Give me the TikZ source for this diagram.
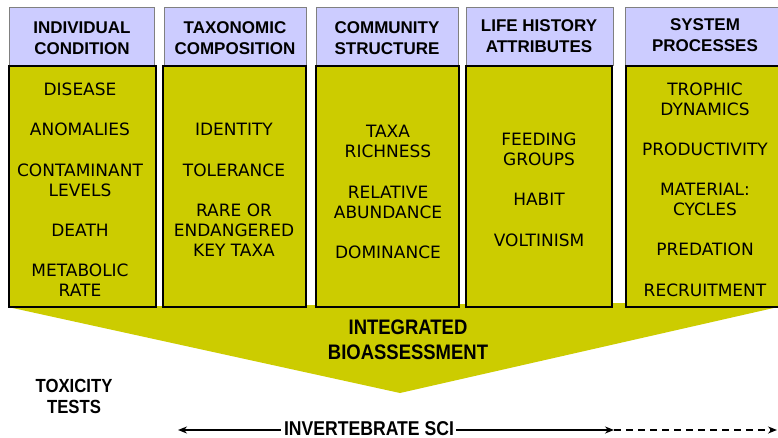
\documentclass[tikz,border=0pt]{standalone}
\usepackage{fontspec}
\setmainfont{Liberation Sans}
\newfontfamily\comic{DejaVu Sans}
\newfontfamily\narrowb[FakeStretch=0.88]{Liberation Sans Bold}
\usetikzlibrary{arrows.meta}
\definecolor{yel}{RGB}{204,204,0}
\definecolor{lav}{RGB}{204,204,255}
\definecolor{hdrline}{RGB}{128,128,128}
\begin{document}
\begin{tikzpicture}[x=1pt,y=-1pt,
  hdr/.style={draw=hdrline, fill=lav, line width=0.8pt},
  ybox/.style={draw=black, fill=yel, line width=2.8pt},
  htxt/.style={font=\fontsize{17}{21}\selectfont\bfseries, align=center, inner sep=0pt},
  itxt/.style={font=\comic\fontsize{17}{20}\selectfont, align=center, inner sep=0pt},
  btxt/.style={font=\narrowb\fontsize{21}{25}\selectfont, align=center, inner sep=0pt},
  stxt/.style={font=\narrowb\fontsize{19}{21}\selectfont, align=center, inner sep=0pt},
  arr/.style={line width=1.6pt, -{Stealth[length=9pt,width=7pt]}}]
\useasboundingbox (0,0) rectangle (778,438);
% funnel
\fill[yel] (8,307) -- (800,302) -- (400,393) -- cycle;
% header boxes
\path[hdr] (9,7) rectangle (154,65);
\path[hdr] (164,7) rectangle (306,65);
\path[hdr] (316,7) rectangle (458,65);
\path[hdr] (466,7) rectangle (613,65);
\path[hdr] (625,7) rectangle (790,65);
% yellow boxes
\path[ybox] (9,66) rectangle (156,307);
\path[ybox] (163,66) rectangle (306,307);
\path[ybox] (316,66) rectangle (459,307);
\path[ybox] (466,66) rectangle (612,307);
\path[ybox] (626,66) rectangle (795,307);
% headers text
\node[htxt] (t1) at (82,38.5) {INDIVIDUAL\\CONDITION};
\node[htxt] (t2) at (235,38.5) {TAXONOMIC\\COMPOSITION};
\node[htxt] (t3) at (387,38.5) {COMMUNITY\\STRUCTURE};
\node[htxt] (t4) at (539,36.5) {LIFE HISTORY\\ATTRIBUTES};
\node[htxt] (t5) at (705,35.5) {SYSTEM\\PROCESSES};
% column 1
\node[itxt] (a1) at (80,89) {DISEASE};
\node[itxt] (a2) at (80,129) {ANOMALIES};
\node[itxt] (a3) at (80,180) {CONTAMINANT\\LEVELS};
\node[itxt] (a4) at (80,230) {DEATH};
\node[itxt] (a5) at (80,280) {METABOLIC\\RATE};
% column 2
\node[itxt] (b1) at (234,129) {IDENTITY};
\node[itxt] (b2) at (234,170) {TOLERANCE};
\node[itxt] (b3) at (234,230) {RARE OR\\ENDANGERED\\KEY TAXA};
% column 3
\node[itxt] (c1) at (388,141.5) {TAXA\\RICHNESS};
\node[itxt] (c2) at (388,202) {RELATIVE\\ABUNDANCE};
\node[itxt] (c3) at (388,252) {DOMINANCE};
% column 4
\node[itxt] (d1) at (539,149) {FEEDING\\GROUPS};
\node[itxt] (d2) at (539,199) {HABIT};
\node[itxt] (d3) at (539,240) {VOLTINISM};
% column 5
\node[itxt] (e1) at (705,99) {TROPHIC\\DYNAMICS};
\node[itxt] (e2) at (705,149) {PRODUCTIVITY};
\node[itxt] (e3) at (705,199) {MATERIAL:\\CYCLES};
\node[itxt] (e4) at (705,249) {PREDATION};
\node[itxt] (e5) at (705,290) {RECRUITMENT};
% bottom texts
\node[btxt] (ib) at (408,339.5) {INTEGRATED\\BIOASSESSMENT};
\node[stxt] (tox) at (74,396.5) {TOXICITY\\TESTS};
\node[stxt, font=\narrowb\fontsize{20}{22}\selectfont] (sci) at (369,428.5) {INVERTEBRATE SCI};
\coordinate (la) at (178,430);
\coordinate (ra) at (614,430);
\coordinate (rd) at (777,430);
\coordinate (sl) at ([xshift=-3pt]sci.west |- la);
\coordinate (sr) at ([xshift=2pt]sci.east |- la);
\draw[arr] (sl) -- (la);
\draw[arr] (sr) -- (ra);
\draw[arr, dashed, dash pattern=on 7pt off 5pt] (ra) -- (rd);
\end{tikzpicture}
\end{document}
